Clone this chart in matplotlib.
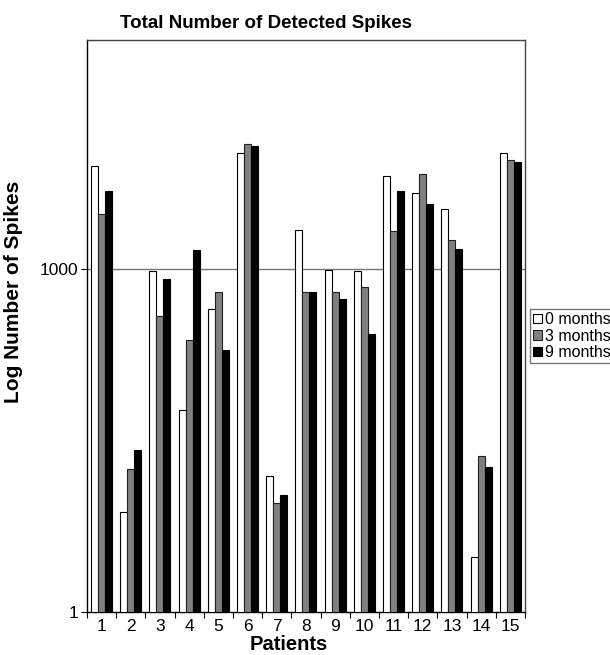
import numpy as np
import matplotlib
matplotlib.use('Agg')
import matplotlib.pyplot as plt

plt.rcParams['font.family'] = ['Liberation Sans', 'DejaVu Sans']

patients = [str(i) for i in range(1, 16)]
months_0 = [7950, 6.5, 950, 57, 447, 10200, 14.6, 2170, 985, 950, 6460, 4560, 3330, 2.0, 10200]
months_3 = [2990, 16.9, 383, 238, 632, 12450, 8.0, 620, 632, 686, 2130, 6730, 1800, 22.2, 8970]
months_9 = [4750, 25, 817, 1470, 196, 11800, 9.5, 632, 542, 268, 4750, 3710, 1500, 17.6, 8500]

fig = plt.figure(figsize=(6.1, 6.55), dpi=100)
ax = fig.add_axes([0.1426, 0.0656, 0.718, 0.8733])

x = np.arange(len(patients))
w = 0.24
ax.bar(x - w, months_0, w, bottom=1, color='white', edgecolor='black', linewidth=0.8, label='0 months', zorder=3)
ax.bar(x, months_3, w, bottom=1, color='#808080', edgecolor='#222222', linewidth=0.8, label='3 months', zorder=3)
ax.bar(x + w, months_9, w, bottom=1, color='black', edgecolor='black', linewidth=0.8, label='9 months', zorder=3)

ax.set_yscale('log')
ax.set_ylim(1, 100000)
ax.set_xlim(-0.5, len(patients) - 0.5)
ax.set_yticks([1, 1000])
ax.set_yticklabels(['1', '1000'], fontsize=12.5)
ax.yaxis.set_minor_locator(matplotlib.ticker.NullLocator())
ax.axhline(1000, color='#777777', linewidth=1.0, zorder=1)

# ticks between groups, labels at centers
ax.set_xticks(np.arange(-0.5, len(patients)), minor=False)
ax.set_xticklabels([])
ax.set_xticks(x, minor=True)
ax.set_xticklabels(patients, minor=True, fontsize=12.5)
ax.tick_params(axis='x', which='major', length=4, width=0.8, direction='out')
ax.tick_params(axis='x', which='minor', length=0, pad=5)
ax.tick_params(axis='y', length=4, width=0.8, direction='out', pad=2)

for s in ['top', 'right']:
    ax.spines[s].set_color('#444444')
for s in ax.spines.values():
    s.set_linewidth(1.0)

ax.set_ylabel('Log Number of Spikes', fontsize=15, fontweight='bold')
ax.yaxis.set_label_coords(-0.145, 0.56)
ax.set_xlabel('Patients', fontsize=14.5, fontweight='bold', labelpad=0)
ax.xaxis.set_label_coords(0.46, -0.04)

fig.text(0.436, 0.964, 'Total Number of Detected Spikes', fontsize=13.5,
         fontweight='bold', ha='center', va='center')

leg = ax.legend(loc='upper left', bbox_to_anchor=(1.012, 0.53), fontsize=11.5,
                frameon=True, fancybox=False, handlelength=0.55, handleheight=0.55,
                handletextpad=0.2, borderpad=0.2, labelspacing=0.1, borderaxespad=0)
leg.get_frame().set_edgecolor('#555555')
leg.get_frame().set_linewidth(1.0)

fig.savefig('out.png', dpi=100)
